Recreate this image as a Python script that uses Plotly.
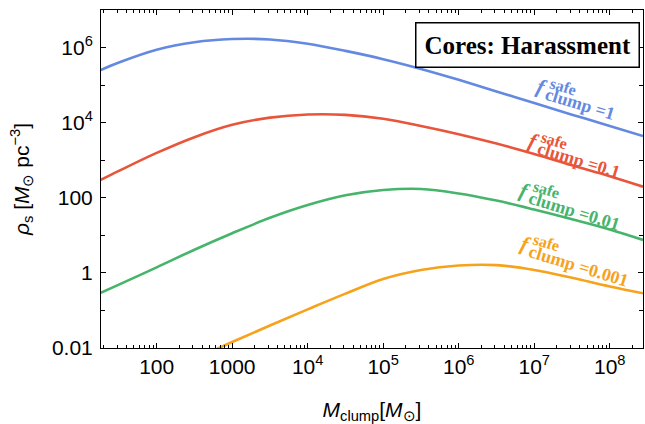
import math
import plotly.graph_objects as go

# ---------------- data (log10 values) ----------------
blue_logM = [1.26, 1.5, 2.0, 2.5, 3.0, 3.5, 4.0, 4.5, 5.0, 5.5, 6.0, 6.5, 7.0, 7.5, 8.0, 8.44]
blue_logrho = [5.41, 5.61, 5.95, 6.15, 6.235, 6.225, 6.11, 5.92, 5.70, 5.44, 5.15, 4.84, 4.53, 4.22, 3.92, 3.65]

red_logM = [1.26, 1.5, 2.0, 2.5, 3.0, 3.5, 4.0, 4.5, 5.0, 5.5, 6.0, 6.5, 7.0, 7.5, 8.0, 8.44]
red_logrho = [2.48, 2.72, 3.20, 3.62, 3.95, 4.14, 4.225, 4.215, 4.11, 3.92, 3.70, 3.45, 3.17, 2.87, 2.58, 2.30]

green_logM = [1.26, 1.5, 2.0, 2.5, 3.0, 3.5, 4.0, 4.5, 5.0, 5.5, 6.0, 6.5, 7.0, 7.5, 8.0, 8.44]
green_logrho = [-0.53, -0.31, 0.15, 0.62, 1.06, 1.47, 1.81, 2.07, 2.21, 2.24, 2.12, 1.93, 1.69, 1.43, 1.16, 0.88]

orange_logM = [2.5, 3.0, 3.5, 4.0, 4.5, 5.0, 5.5, 6.0, 6.5, 7.0, 7.5, 8.0, 8.44]
orange_logrho = [-2.29, -1.84, -1.40, -0.97, -0.55, -0.16, 0.08, 0.20, 0.21, 0.08, -0.13, -0.36, -0.54]

series_names = ["f_clump^safe=1", "f_clump^safe=0.1", "f_clump^safe=0.01", "f_clump^safe=0.001"]
series_values = ["1", "0.1", "0.01", "0.001"]
series_colors = ["#6489e0", "#e8553a", "#46b46a", "#f7a21b"]

x_tickvals = [1e2, 1e3, 1e4, 1e5, 1e6, 1e7, 1e8]
x_ticktext = ["100", "1000", "10<sup>4</sup>", "10<sup>5</sup>", "10<sup>6</sup>", "10<sup>7</sup>", "10<sup>8</sup>"]
y_tickvals = [1e-2, 1, 1e2, 1e4, 1e6]
y_ticktext = ["0.01", "1", "100", "10<sup>4</sup>", "10<sup>6</sup>"]
y_minor_vals = [1e-1, 1e1, 1e3, 1e5, 1e7]
x_minor_vals = [k * 10 ** n for n in range(1, 9) for k in range(2, 10)]

title_text = "Cores: Harassment"

# ---------------- layout geometry ----------------
W, H = 645, 424
PL, PR, PT, PB = 101, 643, 10, 348


def paper(px, py):
    return (px - PL) / (PR - PL), (PB - py) / (PB - PT)


fig = go.Figure()
xs_all = [blue_logM, red_logM, green_logM, orange_logM]
ys_all = [blue_logrho, red_logrho, green_logrho, orange_logrho]
for name, xs, ys, col in zip(series_names, xs_all, ys_all, series_colors):
    fig.add_trace(go.Scatter(
        x=[10 ** v for v in xs], y=[10 ** v for v in ys], mode="lines", name=name,
        line=dict(color=col, width=2.6, shape="spline", smoothing=1.0),
        showlegend=False, hoverinfo="skip"))

axis_common = dict(
    showgrid=False, zeroline=False, showline=True, linecolor="black", linewidth=1,
    mirror="allticks", ticks="inside", tickcolor="black", tickwidth=1,
    tickfont=dict(family="Liberation Sans", size=21, color="black"),
)

fig.update_xaxes(type="log", range=[1.263, 8.44], tickmode="array", tickvals=x_tickvals,
                 ticktext=x_ticktext, ticklen=5,
                 minor=dict(tickmode="array", tickvals=x_minor_vals, ticks="inside", ticklen=3,
                            tickcolor="black", showgrid=False),
                 title=dict(text="<i>M</i><sub>clump</sub>[<i>M</i><sub>⊙</sub>]",
                            font=dict(family="Liberation Sans", size=21, color="black"), standoff=25),
                 **axis_common)
fig.update_yaxes(type="log", range=[-2, 7.01], tickmode="array", tickvals=y_tickvals,
                 ticktext=y_ticktext, ticklen=5, ticklabelstandoff=3,
                 minor=dict(tickmode="array", tickvals=y_minor_vals, ticks="inside", ticklen=4,
                            tickcolor="black", showgrid=False),
                 title=dict(text="<i>ρ</i><sub>s</sub> [<i>M</i><sub>⊙</sub> pc<sup>−3</sup>]",
                            font=dict(family="Liberation Sans", size=21, color="black"), standoff=16),
                 **axis_common)

annotations = []
# title box
bx, by = paper(640, 22)
annotations.append(dict(xref="paper", yref="paper", x=bx, y=by, xanchor="right", yanchor="top",
                        text="<b>" + title_text + "</b>", showarrow=False,
                        font=dict(family="Liberation Serif", size=25, color="black"),
                        bordercolor="black", borderwidth=1.5, borderpad=8, bgcolor="white"))

# curve labels (rotated)
ang = 17.0
ux, uy = math.cos(math.radians(ang)), math.sin(math.radians(ang))
nx, ny = -uy, ux
label_starts = [(546.0, 94.0), (537.5, 148.0), (529.0, 197.6), (529.3, 250.8)]
clump_size, safe_size, f_size = 18, 16, 21
# Times-bold advance widths (per 1000 em) to centre the rotated text
adv = {"c": 444, "l": 278, "u": 556, "m": 833, "p": 556, " ": 250, "=": 570, "0": 500, ".": 250, "1": 500}
for (sx, sy), val, col in zip(label_starts, series_values, series_colors):
    txt = "clump =" + val
    Lr = sum(adv[ch] for ch in txt) / 1000 * clump_size
    pieces = [
        ("<b><i>f</i></b>", f_size, -6.0, -5.0),
        ("<b>safe</b>", safe_size, 14.0, -12.5),
        ("<b>" + txt + "</b>", clump_size, Lr / 2, 0.0),
    ]
    for t, s, a, b in pieces:
        cx = sx + a * ux + b * nx
        cy = sy + a * uy + b * ny
        px_, py_ = paper(cx, cy)
        annotations.append(dict(xref="paper", yref="paper", x=px_, y=py_, xanchor="center",
                                yanchor="middle", text=t, showarrow=False, textangle=ang,
                                font=dict(family="Liberation Serif", size=s, color=col)))

fig.update_layout(
    width=W, height=H, autosize=False,
    margin=dict(l=PL, r=W - PR, t=PT, b=H - PB, pad=0),
    paper_bgcolor="white", plot_bgcolor="white",
    annotations=annotations,
)

fig.write_html("out.html", config={"displayModeBar": False},
               post_script="document.body.style.margin='0px';")
